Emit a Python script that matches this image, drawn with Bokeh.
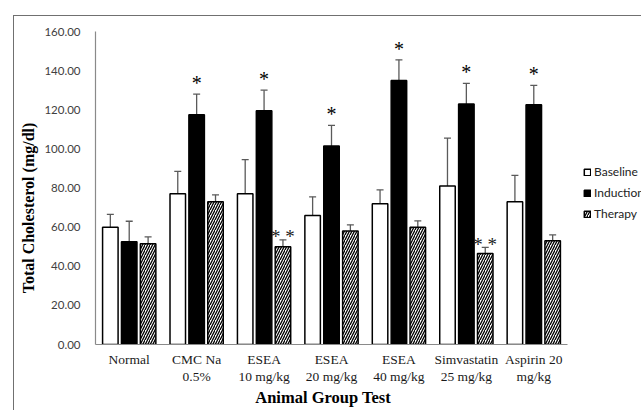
from bokeh.plotting import figure
from bokeh.models import (ColumnDataSource, Range1d, Whisker, TeeHead,
                          Legend, LegendItem, NumeralTickFormatter, FixedTicker)
from bokeh.transform import dodge
from bokeh.core.properties import value
from bokeh.embed import file_html
from bokeh.resources import INLINE

# ---------------- data ----------------
groups = ["Normal", "CMC Na\n0.5%", "ESEA\n10 mg/kg", "ESEA\n20 mg/kg",
          "ESEA\n40 mg/kg", "Simvastatin\n25 mg/kg", "Aspirin 20\nmg/kg"]
baseline = [60.0, 77.0, 77.0, 66.0, 72.0, 81.0, 73.0]
baseline_sd = [6.5, 11.5, 17.5, 9.5, 7.0, 24.5, 13.5]
induction = [52.5, 117.5, 119.5, 101.5, 135.0, 123.0, 122.5]
induction_sd = [10.5, 10.5, 10.5, 10.5, 10.5, 10.5, 10.0]
therapy = [51.5, 73.0, 50.0, 58.0, 60.0, 46.5, 53.0]
therapy_sd = [3.5, 3.5, 3.5, 3.2, 3.2, 3.1, 3.0]
induction_marks = ["", "*", "*", "*", "*", "*", "*"]
therapy_marks = ["", "", "* *", "", "", "* *", ""]
series_names = ["Baseline", "Induction", "Therapy"]
y_ticks = [0, 20, 40, 60, 80, 100, 120, 140, 160]
x_title = "Animal Group Test"
y_title = "Total Cholesterol (mg/dl)"

# category centres on a numeric scale (one unit per group)
centers = [i + 0.5 for i in range(len(groups))]

def make_src(vals, sds, marks=None):
    d = dict(x=centers, val=vals, upper=[v + s for v, s in zip(vals, sds)])
    if marks is not None:
        d["mark"] = marks
    return ColumnDataSource(d)

src_b = make_src(baseline, baseline_sd)
src_i = make_src(induction, induction_sd, induction_marks)
src_t = make_src(therapy, therapy_sd, therapy_marks)

# layout: frame runs to the right edge so the legend can sit right of the bars
W, H = 641, 410
frame_left, groups_px = 95, 472
x_end = len(groups) * (W - frame_left) / groups_px

p = figure(x_range=Range1d(0, x_end), y_range=Range1d(0, 160),
           width=W, height=H, output_backend="svg", toolbar_location=None,
           min_border_left=frame_left, min_border_right=0, min_border_top=31,
           min_border_bottom=66)
p.border_fill_color = None
p.styles = {"background": "linear-gradient(#707070,#707070) 13px 15px / 1px 100% no-repeat, "
                          "linear-gradient(#707070,#707070) 13px 15px / 100% 1px no-repeat"}
p.outline_line_color = None
p.xgrid.grid_line_color = None
p.ygrid.grid_line_color = None

off = 0.28
bw = 0.23
r_b = p.vbar(x=dodge("x", -off), top="val", width=bw, source=src_b,
             fill_color="white", line_color="black", line_width=1.5)
r_i = p.vbar(x=dodge("x", 0), top="val", width=bw, source=src_i,
             fill_color="black", line_color="black", line_width=1.5)
r_t = p.vbar(x=dodge("x", off), top="val", width=bw, source=src_t,
             fill_color="white", line_color="black", line_width=1.5,
             hatch_pattern="right_diagonal_line", hatch_color="black",
             hatch_scale=5, hatch_weight=1.3)

err_col = "#5a5a5a"
for src, o in ((src_b, -off), (src_i, 0), (src_t, off)):
    w = Whisker(base=dodge("x", o), upper="upper", lower="val",
                source=src, line_color=err_col, line_width=1.3,
                upper_head=TeeHead(size=7, line_color=err_col, line_width=1.3),
                lower_head=None)
    p.add_layout(w)

p.text(x=dodge("x", 0), y="upper", text="mark", source=src_i,
       text_align="center", text_baseline="middle", y_offset=-11,
       text_font=value("Liberation Serif"), text_font_size="20px", text_color="black")
p.text(x=dodge("x", off), y="upper", text="mark", source=src_t,
       text_align="center", text_baseline="middle", y_offset=-3,
       text_font=value("Liberation Serif"), text_font_size="19px", text_color="#222222")

# axes
p.yaxis.ticker = FixedTicker(ticks=y_ticks)
p.yaxis.formatter = NumeralTickFormatter(format="0.00")
p.xaxis.ticker = FixedTicker(ticks=centers)
p.xaxis.major_label_overrides = {c: g for c, g in zip(centers, groups)}
p.xaxis.bounds = (0, len(groups))
for ax in (p.xaxis[0], p.yaxis[0]):
    ax.axis_line_color = "#8a8a8a"
    ax.axis_line_width = 1.2
    ax.major_tick_line_color = None
    ax.minor_tick_line_color = None
p.yaxis.major_label_text_font = "Lato"
p.yaxis.major_label_text_font_size = "11.5px"
p.yaxis.major_label_text_color = "#404040"
p.yaxis.major_label_standoff = 9
# trailing no-break spaces shift the centred titles to where the reference has them
p.yaxis.axis_label = y_title + "\u00a0" * 10
p.yaxis.axis_label_text_font = "Liberation Serif"
p.yaxis.axis_label_text_font_style = "bold"
p.yaxis.axis_label_text_font_size = "16px"
p.yaxis.axis_label_text_color = "black"
p.yaxis.axis_label_standoff = 4

p.xaxis.major_label_text_font = "Liberation Serif"
p.xaxis.major_label_text_font_size = "13.5px"
p.xaxis.major_label_text_color = "#1a1a1a"
p.xaxis.major_label_text_line_height = 1.15
p.xaxis.major_label_standoff = 1
p.xaxis.major_label_orientation = "horizontal"
p.xaxis.axis_label = x_title + "\u00a0" * 22
p.xaxis.axis_label_text_font = "Liberation Serif"
p.xaxis.axis_label_text_font_style = "bold"
p.xaxis.axis_label_text_font_size = "16.5px"
p.xaxis.axis_label_text_color = "black"
p.xaxis.axis_label_standoff = 1

legend = Legend(items=[LegendItem(label=series_names[0], renderers=[r_b]),
                       LegendItem(label=series_names[1], renderers=[r_i]),
                       LegendItem(label=series_names[2], renderers=[r_t])],
                location=(488, 123), padding=0, margin=0, spacing=6,
                label_height=14, glyph_height=8, glyph_width=8, label_standoff=3,
                label_text_font="Lato", label_text_font_size="12px",
                label_text_color="#222222", border_line_color=None,
                background_fill_alpha=0)
p.add_layout(legend, "center")

open("out.html", "w").write(file_html(p, INLINE))
